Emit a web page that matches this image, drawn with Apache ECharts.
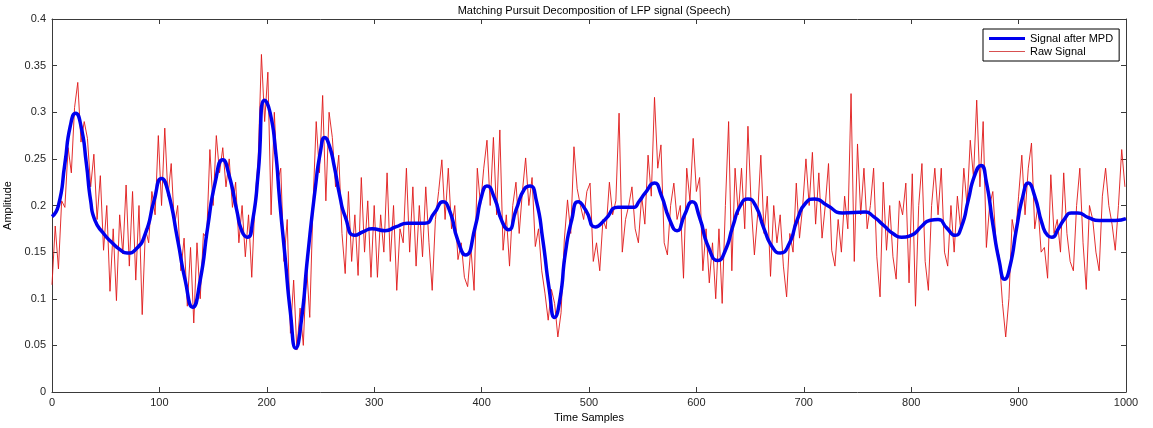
<!DOCTYPE html>
<html>
<head>
<meta charset="utf-8">
<script src="https://cdn.jsdelivr.net/npm/echarts@6/dist/echarts.min.js"></script>
<style>
html,body{margin:0;padding:0;background:#fff;}
#chart{width:1153px;height:428px;}
</style>
</head>
<body>
<div id="chart"></div>
<script>
// ---- data ----
const titleText = 'Matching Pursuit Decomposition of LFP signal (Speech)';
const xTicks = [0, 100, 200, 300, 400, 500, 600, 700, 800, 900, 1000];
const yTicks = [0, 0.05, 0.1, 0.15, 0.2, 0.25, 0.3, 0.35, 0.4];

// Signal after MPD (smooth reconstruction), read at sample positions
const mpdSamples = [0, 6, 12, 17, 22, 27, 32, 36, 40, 48, 56, 63, 70, 78, 87, 95, 102, 108, 117, 124, 131, 138, 145, 152, 159, 165, 172, 177, 182, 187, 192, 198, 203, 208, 212, 217, 222, 227, 232, 238, 245, 250, 254, 258, 263, 268, 273, 282, 290, 298, 310, 320, 331, 347, 356, 364, 370, 378, 385, 394, 400, 405, 412, 419, 425, 432, 440, 445, 451, 457, 463, 468, 473, 478, 484, 490, 497, 506, 515, 527, 541, 547, 552, 561, 567, 575, 582, 589, 596, 603, 611, 620, 627, 634, 641, 648, 655, 663, 671, 678, 686, 694, 702, 710, 722, 736, 757, 765, 775, 783, 791, 800, 810, 817, 825, 833, 841, 847, 853, 859, 865, 870, 876, 882, 887, 892, 898, 904, 909, 915, 922, 927, 931, 937, 943, 949, 955, 965, 975, 982, 990, 1000];
const mpdValues  = [0.188, 0.2, 0.245, 0.285, 0.299, 0.285, 0.245, 0.205, 0.184, 0.17, 0.160, 0.153, 0.149, 0.153, 0.170, 0.205, 0.229, 0.215, 0.163, 0.12, 0.091, 0.12, 0.177, 0.225, 0.249, 0.232, 0.195, 0.172, 0.166, 0.185, 0.235, 0.313, 0.3, 0.26, 0.205, 0.145, 0.085, 0.047, 0.075, 0.145, 0.217, 0.258, 0.273, 0.265, 0.241, 0.21, 0.188, 0.168, 0.172, 0.175, 0.173, 0.177, 0.181, 0.181, 0.192, 0.204, 0.195, 0.162, 0.147, 0.177, 0.21, 0.221, 0.208, 0.183, 0.174, 0.195, 0.218, 0.221, 0.205, 0.163, 0.11, 0.080, 0.1, 0.149, 0.185, 0.204, 0.195, 0.177, 0.185, 0.198, 0.198, 0.205, 0.213, 0.224, 0.212, 0.185, 0.173, 0.19, 0.204, 0.187, 0.156, 0.141, 0.152, 0.178, 0.2, 0.207, 0.2, 0.175, 0.155, 0.149, 0.158, 0.185, 0.203, 0.207, 0.2, 0.192, 0.193, 0.188, 0.178, 0.17, 0.166, 0.168, 0.178, 0.184, 0.185, 0.176, 0.168, 0.178, 0.205, 0.232, 0.243, 0.225, 0.18, 0.14, 0.121, 0.135, 0.175, 0.21, 0.224, 0.21, 0.18, 0.168, 0.166, 0.175, 0.186, 0.192, 0.192, 0.187, 0.184, 0.184, 0.184, 0.186];

// Raw signal, one reading every rawStep samples starting at 0
const rawStep = 3;
const rawValues = [
  0.115, 0.178, 0.132, 0.205, 0.198, 0.262, 0.235, 0.305, 0.332, 0.268,
  0.29, 0.272, 0.22, 0.255, 0.185, 0.232, 0.152, 0.2, 0.108, 0.175,
  0.098, 0.19, 0.148, 0.222, 0.135, 0.215, 0.12, 0.2, 0.083, 0.175,
  0.16, 0.215, 0.19, 0.275, 0.2, 0.283, 0.21, 0.245, 0.178, 0.2,
  0.13, 0.165, 0.092, 0.155, 0.074, 0.16, 0.1, 0.17, 0.165, 0.26,
  0.2, 0.275, 0.235, 0.262, 0.22, 0.25, 0.198, 0.225, 0.16, 0.2,
  0.145, 0.19, 0.123, 0.205, 0.25, 0.362, 0.29, 0.343, 0.19, 0.3,
  0.225, 0.24, 0.14, 0.185, 0.063, 0.12, 0.045, 0.09, 0.05, 0.136,
  0.08, 0.2, 0.29, 0.235, 0.318, 0.205, 0.3, 0.273, 0.22, 0.254,
  0.17, 0.127, 0.215, 0.14, 0.19, 0.125, 0.23, 0.15, 0.205, 0.123,
  0.2, 0.123, 0.19, 0.15, 0.235, 0.14, 0.2, 0.109, 0.175, 0.16,
  0.24, 0.15, 0.22, 0.135, 0.2, 0.145, 0.22, 0.16, 0.109, 0.185,
  0.215, 0.249, 0.185, 0.24, 0.175, 0.2, 0.142, 0.16, 0.123, 0.113,
  0.155, 0.109, 0.24, 0.2, 0.24, 0.27, 0.2, 0.273, 0.19, 0.281,
  0.152, 0.19, 0.135, 0.2, 0.225, 0.17, 0.215, 0.251, 0.2, 0.23,
  0.156, 0.175, 0.13, 0.106, 0.077, 0.11, 0.095, 0.059, 0.085, 0.163,
  0.206, 0.17, 0.263, 0.218, 0.2, 0.185, 0.215, 0.224, 0.14, 0.16,
  0.13, 0.185, 0.175, 0.225, 0.19, 0.205, 0.299, 0.15, 0.185, 0.2,
  0.22, 0.175, 0.16, 0.21, 0.18, 0.254, 0.21, 0.316, 0.24, 0.265,
  0.16, 0.147, 0.2, 0.224, 0.185, 0.2, 0.122, 0.24, 0.205, 0.272,
  0.215, 0.23, 0.13, 0.175, 0.117, 0.16, 0.1, 0.175, 0.095, 0.2,
  0.29, 0.13, 0.24, 0.19, 0.24, 0.175, 0.285, 0.2, 0.147, 0.19,
  0.254, 0.17, 0.21, 0.124, 0.2, 0.16, 0.19, 0.135, 0.102, 0.17,
  0.15, 0.224, 0.165, 0.2, 0.25, 0.2, 0.257, 0.18, 0.235, 0.165,
  0.2, 0.245, 0.152, 0.135, 0.185, 0.15, 0.21, 0.175, 0.32, 0.14,
  0.266, 0.19, 0.24, 0.175, 0.2, 0.24, 0.145, 0.102, 0.225, 0.152,
  0.2, 0.145, 0.121, 0.205, 0.19, 0.224, 0.117, 0.234, 0.092, 0.2,
  0.245, 0.14, 0.109, 0.2, 0.24, 0.19, 0.24, 0.15, 0.135, 0.2,
  0.15, 0.21, 0.175, 0.24, 0.2, 0.27, 0.23, 0.313, 0.22, 0.29,
  0.155, 0.2, 0.215, 0.16, 0.145, 0.095, 0.059, 0.1, 0.185, 0.165,
  0.21, 0.254, 0.19, 0.24, 0.267, 0.175, 0.2, 0.15, 0.155, 0.122,
  0.233, 0.17, 0.185, 0.15, 0.235, 0.17, 0.14, 0.13, 0.2, 0.24,
  0.16, 0.11, 0.2, 0.185, 0.15, 0.13, 0.21, 0.24, 0.2, 0.18,
  0.152, 0.2, 0.26, 0.22
];

// ---- chart ----
const font = 'Liberation Sans, Arial, Helvetica, sans-serif';
const axisColor = '#3a3a3a';
const rawData = rawValues.map((v, i) => [i * rawStep, v]);
const mpdData = mpdSamples.map((s, i) => [s, mpdValues[i]]);
const fmtY = v => String(+(+v).toFixed(2));
const fmtX = v => String(Math.round(v));

const chart = echarts.init(document.getElementById('chart'), null, {renderer: 'canvas'});
const commonX = {
  type: 'value', min: xTicks[0], max: xTicks[xTicks.length - 1], interval: 100,
  splitLine: {show: false},
  axisLine: {show: true, onZero: false, lineStyle: {color: axisColor, width: 1}},
  axisTick: {show: true, inside: true, length: 5, lineStyle: {color: axisColor}},
};
const commonY = {
  type: 'value', min: yTicks[0], max: yTicks[yTicks.length - 1], interval: 0.05,
  splitLine: {show: false},
  axisLine: {show: true, onZero: false, lineStyle: {color: axisColor, width: 1}},
  axisTick: {show: true, inside: true, length: 5, lineStyle: {color: axisColor}},
};
chart.setOption({
  animation: false,
  backgroundColor: '#ffffff',
  title: {
    text: titleText, left: 589, top: 0, textAlign: 'center',
    textStyle: {fontFamily: font, fontSize: 11, fontWeight: 'normal', color: '#000'}
  },
  grid: {left: 52, right: 27, top: 19, bottom: 36, containLabel: false, outerBoundsMode: 'none'},
  legend: {
    left: 983, top: 29, orient: 'vertical',
    backgroundColor: '#fff', borderColor: '#000', borderWidth: 1,
    padding: [4, 6, 4, 6], itemGap: 2, itemWidth: 36, itemHeight: 12,
    textStyle: {fontFamily: font, fontSize: 11, color: '#000'},
    data: [
      {name: 'Signal after MPD', icon: 'path://M0,0 L36,0 L36,3 L0,3 Z', itemStyle: {color: '#0000ee'}},
      {name: 'Raw Signal', icon: 'path://M0,0 L36,0 L36,1.2 L0,1.2 Z', itemStyle: {color: '#d85050'}}
    ]
  },
  xAxis: [
    Object.assign({}, commonX, {
      position: 'bottom',
      name: 'Time Samples', nameLocation: 'middle', nameGap: 18,
      nameTextStyle: {fontFamily: font, fontSize: 11, color: '#000'},
      axisLabel: {fontFamily: font, fontSize: 11, color: '#262626', margin: 5, formatter: fmtX}
    }),
    Object.assign({}, commonX, {position: 'top', axisLabel: {show: false}})
  ],
  yAxis: [
    Object.assign({}, commonY, {
      position: 'left',
      name: 'Amplitude', nameLocation: 'middle', nameGap: 33,
      nameTextStyle: {fontFamily: font, fontSize: 11, color: '#000'},
      axisLabel: {fontFamily: font, fontSize: 11, color: '#262626', margin: 6, formatter: fmtY}
    }),
    Object.assign({}, commonY, {position: 'right', axisLabel: {show: false}})
  ],
  series: [
    {
      name: 'Raw Signal', type: 'line', data: rawData,
      xAxisIndex: 0, yAxisIndex: 0,
      symbol: 'none', smooth: false, z: 2,
      lineStyle: {color: '#e01818', width: 1, opacity: 0.9},
      itemStyle: {color: '#d85050'}
    },
    {
      name: 'Signal after MPD', type: 'line', data: mpdData,
      xAxisIndex: 0, yAxisIndex: 0,
      symbol: 'none', smooth: 0.6, z: 3,
      lineStyle: {color: '#0000ee', width: 3.5},
      itemStyle: {color: '#0000ee'}
    }
  ]
});
</script>
</body>
</html>
